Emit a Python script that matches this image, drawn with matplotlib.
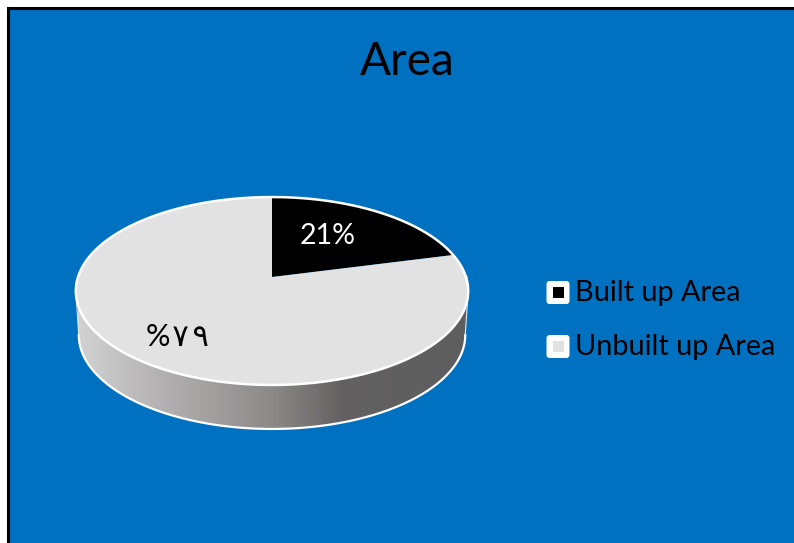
import numpy as np
import matplotlib
matplotlib.use('Agg')
import matplotlib.pyplot as plt
from matplotlib.colors import LinearSegmentedColormap
from matplotlib.patches import FancyBboxPatch, Polygon, Rectangle

title = 'Area'
categories = ['Built up Area', 'Unbuilt up Area']
values = [21, 79]
value_labels = ['21%', '%\u200a۷\u200a\u200a۹']

plt.rcParams['font.family'] = ['Lato', 'DejaVu Sans']

BLUE = '#0070c0'
slice_colors = ['#000000', '#e2e2e2']
label_colors = ['white', 'black']
label_pos = [(328, 236), (177, 337)]
label_sizes = [20.5, 22]

# pie is tilted with a little perspective, so the apex is not the ellipse centre
CX, APEX_Y = 272, 277
K = 194
C, A = 0.149, -50.6
DEPTH = 44


# unit circle point -> pixel position
def project(u, v, dy=0, shrink=1.0):
    d = C * v + 1
    return np.column_stack([CX + shrink * K * u / d, (A * v + APEX_Y) / d + dy])


def arc(phi, dy=0, shrink=1.0):
    return project(np.cos(phi), np.sin(phi), dy, shrink)


fig = plt.figure(figsize=(7.94, 5.43), dpi=100, facecolor='white')
ax = fig.add_axes([0, 0, 1, 1])

# chart area, only the top and left border are inside the crop
ax.add_patch(Rectangle((8.2, 8.2), 800, 550, fc=BLUE, ec='black', lw=2.2, zorder=1))

# side wall with its horizontal gradient
side = np.radians(np.linspace(180 + np.degrees(np.arcsin(C)), 360 - np.degrees(np.arcsin(C)), 200))
bottom = arc(side, DEPTH, 0.985)
top = arc(side)
wall = Polygon(np.vstack([bottom, top[::-1]]), closed=True, fc='none', ec='none', zorder=2)
ax.add_patch(wall)
cmap = LinearSegmentedColormap.from_list('wall', [
    (0.0, '#d2d2d2'), (0.2, '#b5b3b3'), (0.5, '#8c8989'),
    (0.68, '#636161'), (1.0, '#5e5e5e')])
grad = ax.imshow(np.linspace(0, 1, 256)[None, :], cmap=cmap, vmin=0, vmax=1, aspect='auto',
                 extent=(78, 466, 440, 280), zorder=2)
grad.set_clip_path(wall)
ax.plot(bottom[:, 0], bottom[:, 1], color='white', lw=1.6, zorder=3)
ax.plot([bottom[0, 0], top[0, 0]], [bottom[0, 1], top[0, 1]], color='#e8e8e8', lw=0.8, zorder=3)
ax.plot([bottom[-1, 0], top[-1, 0]], [bottom[-1, 1], top[-1, 1]], color='#e8e8e8', lw=0.8, zorder=3)

# slices clockwise from 12 o'clock
edges = np.cumsum([0] + values) / sum(values) * 2 * np.pi
for i in range(len(values)):
    t = np.linspace(edges[i], edges[i + 1], 300)
    rim = project(np.sin(t), np.cos(t))
    pts = np.vstack([project(np.array([0.0]), np.array([0.0])), rim])
    ax.add_patch(Polygon(pts, closed=True, fc=slice_colors[i], ec='none', zorder=4))

full = arc(np.linspace(0, 2 * np.pi, 500))
ax.plot(full[:, 0], full[:, 1], color='white', lw=1.8, zorder=5)

for lab, col, pos, size in zip(value_labels, label_colors, label_pos, label_sizes):
    ax.text(pos[0], pos[1], lab, color=col, fontsize=size, ha='center', va='center', zorder=6)

ax.text(407, 62, title, color='black', fontsize=33, ha='center', va='center', zorder=6)

# legend
for i, name in enumerate(categories):
    y = 292.5 + i * 54
    ax.add_patch(FancyBboxPatch((549, y - 9), 18, 18, boxstyle='round,pad=2.5,rounding_size=3',
                                fc='white', ec='none', zorder=6))
    ax.add_patch(Rectangle((552.5, y - 5.5), 11, 11, fc=slice_colors[i], ec='none', zorder=7))
    ax.text(575, y + 1, name, color='black', fontsize=20.8, ha='left', va='center', zorder=6)

ax.set_xlim(0, 794)
ax.set_ylim(543, 0)
ax.axis('off')
fig.savefig('out.png', dpi=100, facecolor='white')
